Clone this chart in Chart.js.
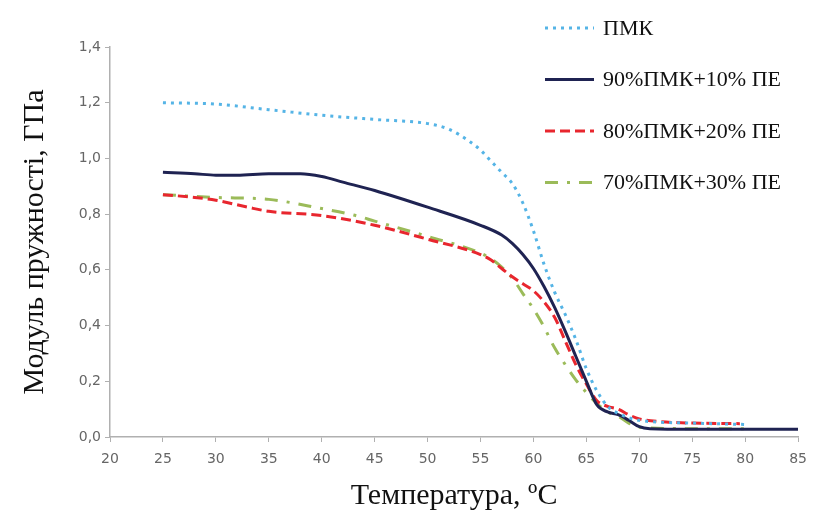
<!DOCTYPE html>
<html>
<head>
<meta charset="utf-8">
<script src="https://cdn.jsdelivr.net/npm/chart.js@4.4.1/dist/chart.umd.min.js"></script>
<style>
    body { margin: 0; background: #fff; }
    #wrap { width: 816px; height: 522px; position: relative; }
</style>
</head>
<body>
<div id="wrap"><canvas id="myChart"></canvas></div>
<script>
// tick labels
var xTicks = [20, 25, 30, 35, 40, 45, 50, 55, 60, 65, 70, 75, 80, 85];
var yTicks = [0, 0.2, 0.4, 0.6, 0.8, 1.0, 1.2, 1.4];

// series names
var seriesNames = ['ПМК', '90%ПМК+10% ПЕ', '80%ПМК+20% ПЕ', '70%ПМК+30% ПЕ'];

// ПМК
var tempPMK = [25, 30, 35, 40, 45, 50, 52, 54, 55, 56, 57, 58, 59, 60, 61, 62, 63, 64, 65, 66, 67, 68, 70, 75, 80];
var modPMK = [1.20, 1.195, 1.175, 1.155, 1.14, 1.125, 1.105, 1.06, 1.03, 0.99, 0.95, 0.91, 0.84, 0.74, 0.62, 0.52, 0.44, 0.35, 0.245, 0.165, 0.11, 0.085, 0.06, 0.05, 0.045];

// 90%ПМК+10% ПЕ
var temp90 = [25, 28, 30, 32, 35, 38, 40, 42, 45, 50, 55, 57, 58, 59, 60, 61, 62, 63, 64, 65, 66, 67, 68, 69, 70, 71, 75, 80, 85];
var mod90 = [0.95, 0.945, 0.94, 0.94, 0.945, 0.945, 0.935, 0.915, 0.885, 0.825, 0.76, 0.725, 0.695, 0.655, 0.605, 0.54, 0.465, 0.38, 0.29, 0.2, 0.115, 0.09, 0.08, 0.06, 0.037, 0.03, 0.028, 0.028, 0.028];

// 80%ПМК+20% ПЕ
var temp80 = [25, 28, 30, 33, 35, 40, 45, 50, 55, 56, 57, 58, 59, 60, 61, 62, 63, 64, 65, 66, 67, 68, 69, 70, 72, 75, 79.5];
var mod80 = [0.87, 0.86, 0.85, 0.825, 0.81, 0.795, 0.76, 0.71, 0.655, 0.635, 0.605, 0.575, 0.55, 0.525, 0.485, 0.43, 0.345, 0.26, 0.19, 0.13, 0.11, 0.10, 0.08, 0.065, 0.055, 0.05, 0.048];

// 70%ПМК+30% ПЕ
var temp70 = [25, 30, 35, 40, 43, 45, 50, 55, 56, 57, 58, 59, 60, 61, 62, 63, 64, 65, 66, 67, 68, 69, 70, 75, 80];
var mod70 = [0.87, 0.86, 0.853, 0.82, 0.797, 0.775, 0.72, 0.66, 0.64, 0.61, 0.57, 0.515, 0.46, 0.395, 0.32, 0.26, 0.205, 0.16, 0.12, 0.09, 0.075, 0.05, 0.035, 0.03, 0.03];

function toPoints(xs, ys) {
    return xs.map(function (x, i) { return { x: x, y: ys[i] }; });
}

function line(label, xs, ys, color, dash) {
    return {
        label: label,
        data: toPoints(xs, ys),
        borderColor: color,
        backgroundColor: color,
        borderWidth: 3,
        borderDash: dash,
        pointRadius: 0,
        fill: false,
        cubicInterpolationMode: 'monotone'
    };
}

// legend drawn on the right, over the plot, like in the original figure
var sideLegend = {
    id: 'sideLegend',
    afterDraw: function (chart) {
        var ctx = chart.ctx;
        ctx.save();
        chart.data.datasets.forEach(function (ds, i) {
            var y = 28 + i * 51.5;
            ctx.beginPath();
            ctx.strokeStyle = ds.borderColor;
            ctx.lineWidth = 3;
            ctx.setLineDash(ds.borderDash || []);
            ctx.moveTo(545, y);
            ctx.lineTo(594, y);
            ctx.stroke();
            ctx.setLineDash([]);
            ctx.fillStyle = '#111';
            ctx.font = '22px "Liberation Serif"';
            ctx.textBaseline = 'middle';
            ctx.fillText(ds.label, 603, y + 1);
        });
        ctx.restore();
    }
};

var ctx = document.getElementById('myChart').getContext('2d');
var myChart = new Chart(ctx, {
    type: 'line',
    data: {
        datasets: [
            line(seriesNames[0], tempPMK, modPMK, '#55b4e6', [3, 5]),
            line(seriesNames[1], temp90, mod90, '#1f2352', []),
            line(seriesNames[2], temp80, mod80, '#e8262e', [10, 5]),
            line(seriesNames[3], temp70, mod70, '#9bbb59', [13, 9, 3, 9])
        ]
    },
    plugins: [sideLegend],
    options: {
        responsive: true,
        maintainAspectRatio: false,
        animation: false,
        layout: { padding: { top: 47, right: 14, left: 0, bottom: 0 } },
        plugins: {
            legend: { display: false },
            tooltip: { enabled: false }
        },
        scales: {
            x: {
                type: 'linear',
                min: 20,
                max: 85,
                afterBuildTicks: function (axis) {
                    axis.ticks = xTicks.map(function (v) { return { value: v }; });
                },
                afterFit: function (scale) { scale.height = 85; },
                grid: { drawOnChartArea: false, drawTicks: true, tickLength: 5, color: '#b0b0b0' },
                border: { color: '#b0b0b0', width: 1.5 },
                ticks: {
                    color: '#666',
                    font: { family: 'DejaVu Sans', size: 14 },
                    padding: 9,
                    maxRotation: 0
                },
                title: {
                    display: true,
                    text: 'Температура, ºС',
                    color: '#111',
                    font: { family: 'Liberation Serif', size: 30 },
                    padding: { top: 0, bottom: 8 }
                }
            },
            y: {
                min: 0,
                max: 1.4,
                afterBuildTicks: function (axis) {
                    axis.ticks = yTicks.map(function (v) { return { value: v }; });
                },
                afterFit: function (scale) { scale.width = 110; },
                grid: { drawOnChartArea: false, drawTicks: true, tickLength: 5, color: '#b0b0b0' },
                border: { color: '#b0b0b0', width: 1.5 },
                ticks: {
                    color: '#666',
                    font: { family: 'DejaVu Sans', size: 14 },
                    padding: 4,
                    callback: function (v) { return v.toFixed(1).replace('.', ','); }
                },
                title: {
                    display: true,
                    text: 'Модуль пружності, ГПа',
                    color: '#111',
                    font: { family: 'Liberation Serif', size: 30 },
                    padding: { top: 17, bottom: 0 }
                }
            }
        }
    }
});
</script>
</body>
</html>
